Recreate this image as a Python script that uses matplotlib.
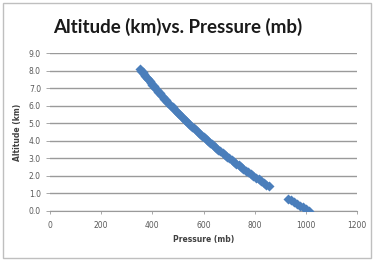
import matplotlib
matplotlib.use("Agg")
import matplotlib.pyplot as plt
from matplotlib.patches import Rectangle

# altitude (km) vs pressure (mb), upper part of the sounding
alt_upper = [8.1, 8.0, 7.9, 7.8, 7.7, 7.6, 7.5, 7.4, 7.3, 7.2, 7.1, 7.0,
             6.9, 6.8, 6.7, 6.6, 6.5, 6.4, 6.3, 6.2, 6.1, 6.0,
             5.9, 5.8, 5.7, 5.6, 5.5, 5.4, 5.3, 5.2, 5.1, 5.0,
             4.9, 4.8, 4.7, 4.6, 4.5, 4.4, 4.3, 4.2, 4.1, 4.0,
             3.9, 3.8, 3.7, 3.6, 3.5, 3.4, 3.3, 3.2, 3.1, 3.0,
             2.9, 2.8, 2.7, 2.6, 2.5, 2.4, 2.3, 2.2, 2.1, 2.0,
             1.9, 1.8, 1.7, 1.6, 1.5, 1.4]
pres_upper = [351, 357, 362, 367, 372, 378, 383, 389, 394, 400, 405, 411,
              417, 423, 429, 435, 441, 447, 453, 459, 466, 472,
              479, 485, 492, 499, 505, 512, 519, 526, 533, 540,
              548, 555, 562, 570, 578, 585, 593, 600, 608, 617,
              625, 633, 641, 649, 658, 666, 675, 684, 692, 701,
              710, 719, 728, 737, 747, 756, 766, 775, 785, 795,
              805, 815, 825, 835, 846, 856]

# lower part near the surface
alt_lower = [0.7, 0.6, 0.5, 0.4, 0.3, 0.2, 0.1, 0.0]
pres_lower = [932, 943, 955, 966, 978, 990, 1001, 1013]

x_ticks = [0, 200, 400, 600, 800, 1000, 1200]
y_ticks = [0, 1, 2, 3, 4, 5, 6, 7, 8, 9]

blue = "#4A7EBB"
grey = "#9A9A9A"

fig = plt.figure(figsize=(3.74, 2.6), dpi=100)
fig.patches.append(Rectangle((0.008, 0.008), 0.984, 0.98, transform=fig.transFigure,
                             fill=False, edgecolor="#BFBFBF", linewidth=1.0))
ax = fig.add_axes([50 / 374, 1 - 211 / 260, 307 / 374, 158 / 260])

ax.scatter(pres_upper, alt_upper, marker="D", s=26, color=blue, linewidths=0, zorder=3)
ax.scatter(pres_lower, alt_lower, marker="D", s=26, color=blue, linewidths=0, zorder=3)

ax.set_xlim(0, 1200)
ax.set_ylim(0, 9)
ax.set_xticks(x_ticks)
ax.set_yticks(y_ticks)
ax.set_xticklabels([str(v) for v in x_ticks])
ax.set_yticklabels(["%.1f" % v for v in y_ticks])
ax.grid(axis="y", color=grey, linewidth=1.0)
ax.set_axisbelow(True)
for s in ["top", "right", "left"]:
    ax.spines[s].set_visible(False)
ax.spines["bottom"].set_color(grey)
ax.tick_params(axis="both", labelsize=5.5, colors="#595959", length=2, width=0.6)
ax.tick_params(axis="y", length=3, color=grey)
ax.tick_params(axis="x", pad=5, color=grey)

ax.set_xlabel("Pressure (mb)", fontsize=5.5, fontweight="bold", color="#404040", labelpad=4)
ax.set_ylabel("Altitude (km)", fontsize=5.5, fontweight="bold", color="#404040", labelpad=5)

fig.text(0.475, 0.895, "Altitude (km)vs. Pressure (mb)", ha="center", va="center",
         fontsize=13.5, fontweight="bold", family="Lato", color="#1a1a1a")

fig.savefig("out.png", dpi=100)
